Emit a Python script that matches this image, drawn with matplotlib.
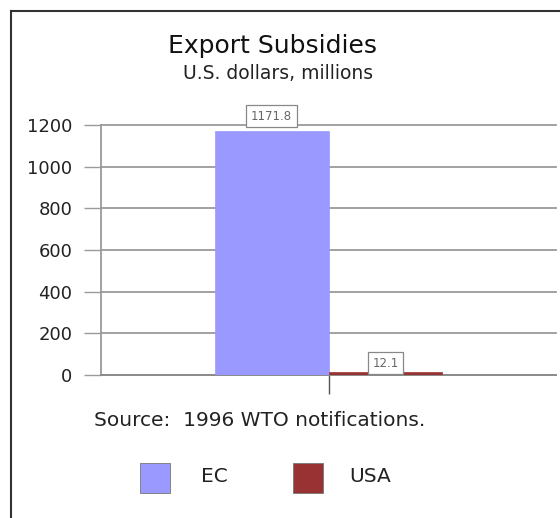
import matplotlib
matplotlib.use("Agg")
import matplotlib.pyplot as plt
from matplotlib.lines import Line2D
from matplotlib.patches import Rectangle

plt.rcParams["font.family"] = ["DejaVu Sans"]

series = ["EC", "USA"]
values = [1171.8, 12.1]
labels = ["1171.8", "12.1"]
colors = ["#9999FF", "#993333"]
yticks = [0, 200, 400, 600, 800, 1000, 1200]

W, H = 560, 518
fig = plt.figure(figsize=(W / 100, H / 100), dpi=100)
fig.patch.set_facecolor("white")

def fx(px):
    return px / W

def fy(py):
    return 1 - py / H

# outer frame (left & top visible)
fig.add_artist(Line2D([fx(11), fx(11)], [fy(11), 0], color="#333333", lw=1.5, transform=fig.transFigure))
fig.add_artist(Line2D([fx(11), 1], [fy(11), fy(11)], color="#333333", lw=1.5, transform=fig.transFigure))

ax = fig.add_axes([fx(101), fy(375), fx(556) - fx(101), fy(125) - fy(375)])
ax.set_facecolor("white")
ax.set_xlim(-0.5, 0.5)
ax.set_ylim(0, 1200)

bw = 0.25
offsets = [-bw / 2, bw / 2]
label_pad = [6, 2]
for off, v, c, lab, lp in zip(offsets, values, colors, labels, label_pad):
    ax.bar(off, v, width=bw, color=c, edgecolor=c, linewidth=0.5, zorder=3)
    ax.annotate(lab, (off, v), xytext=(0, lp), textcoords="offset points",
                ha="center", va="bottom", fontsize=8.5, color="#666666",
                bbox=dict(boxstyle="square,pad=0.4", fc="white", ec="#888888", lw=0.9),
                zorder=5, annotation_clip=False)

ax.set_yticks(yticks)
ax.set_yticklabels([str(t) for t in yticks], fontsize=13, color="#222222")
ax.yaxis.grid(True, color="#9a9a9a", lw=1.3, zorder=0)
for gl in ax.get_ygridlines():
    gl.set_clip_on(False)
ax.tick_params(axis="y", length=12, width=1.0, color="#9a9a9a", pad=8.5)
ax.set_xticks([0])
ax.set_xticklabels([""])
ax.tick_params(axis="x", length=14, width=1.0, color="#555555", direction="out")
for s in ["top", "right"]:
    ax.spines[s].set_visible(False)
ax.spines["left"].set_color("#9a9a9a")
ax.spines["left"].set_linewidth(1.3)
ax.spines["bottom"].set_color("#8a8a8a")
ax.spines["bottom"].set_linewidth(1.3)

fig.text(fx(272), fy(46), "Export Subsidies", ha="center", va="center", fontsize=18, color="#111111")
fig.text(fx(278), fy(74), "U.S. dollars, millions", ha="center", va="center", fontsize=13.5, color="#222222")
fig.text(fx(94), fy(421), "Source:  1996 WTO notifications.", ha="left", va="center", fontsize=14.5, color="#222222")

# legend
leg_x = [140, 293]
txt_x = [201, 349]
for lx, tx, c, s in zip(leg_x, txt_x, colors, series):
    fig.add_artist(Rectangle((fx(lx), fy(493)), fx(30), 30 / H, transform=fig.transFigure,
                             facecolor=c, edgecolor="#777777", lw=0.6))
    fig.text(fx(tx), fy(477), s, ha="left", va="center", fontsize=14.5, color="#222222")

fig.savefig("out.png", dpi=100)
